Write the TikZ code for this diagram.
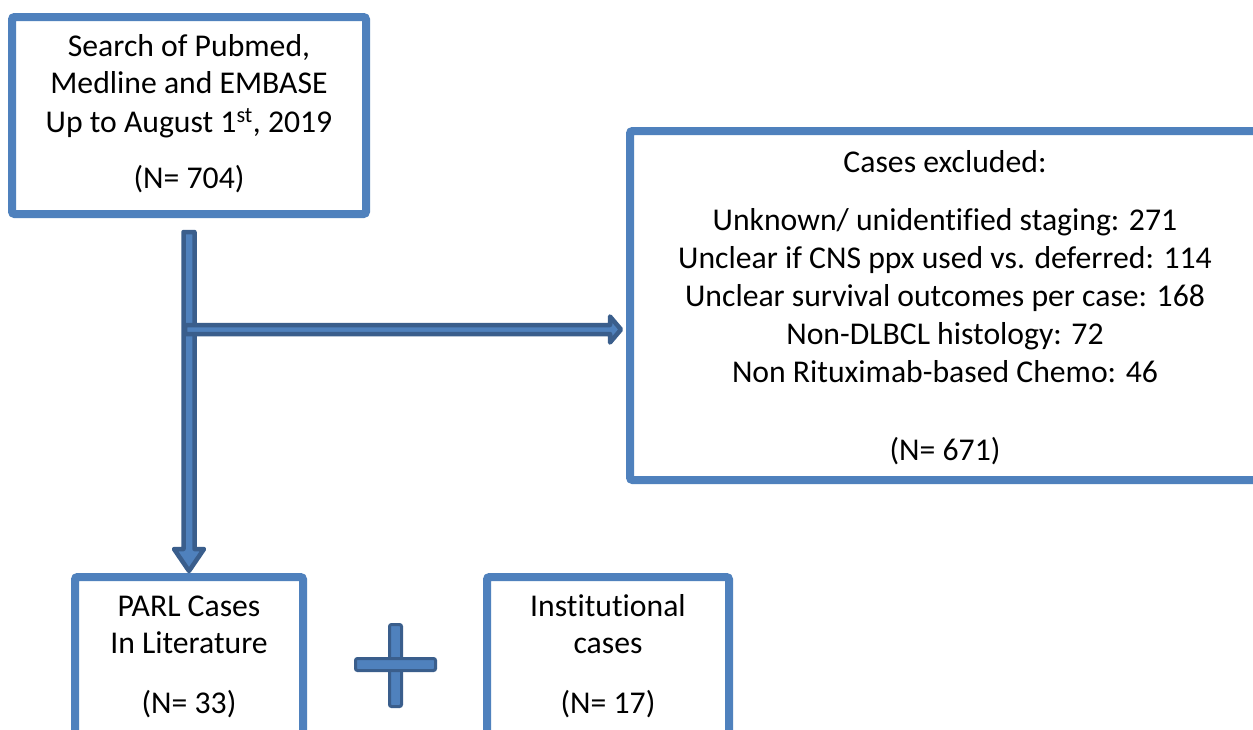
\documentclass[tikz,border=0pt]{standalone}
\usepackage{fontspec}
\setmainfont{Carlito}[Ligatures=NoCommon]
\usetikzlibrary{calc}
\definecolor{boxblue}{HTML}{4F81BD}
\definecolor{darkblue}{HTML}{3A5E8C}
\begin{document}
\begin{tikzpicture}[x=1pt,y=-1pt,
  box/.style={draw=boxblue,line width=8pt,rounded corners=2.5pt,inner sep=0pt,fill=white},
  txt/.style={anchor=base,inner sep=0pt,font=\fontsize{31.7pt}{38pt}\selectfont,text=black},
  blockarrow/.style={fill=boxblue,draw=darkblue,line width=4.5pt,line join=round},
  plusbar/.style={fill=boxblue,draw=darkblue,line width=3pt,rounded corners=2pt,inner sep=0pt}]
\useasboundingbox (0,0) rectangle (1253,729);
\clip (0,0) rectangle (1253,729);
\fill[white] (0,0) rectangle (1253,729);

% boxes
\node[box,minimum width=354pt,minimum height=197pt] (search) at (189,115.5) {};
\node[box,minimum width=630pt,minimum height=349pt] (excl) at (945,305.5) {};
\node[box,minimum width=228pt,minimum height=223pt] (parl) at (189,688.5) {};
\node[box,minimum width=242pt,minimum height=223pt] (inst) at (608,688.5) {};

% texts
\node[txt] (s1) at (189,56) {Search of Pubmed,};
\node[txt] (s2) at (189,93.5) {Medline and EMBASE};
\node[txt] (s3) at (189,132) {Up to August 1\textsuperscript{st}, 2019};
\node[txt] (s4) at (189,188) {(N= 704)};

\node[txt] (e0) at (945,172) {Cases excluded:};
\node[txt] (e1) at (945,230) {Unknown/ unidentified staging: 271};
\node[txt] (e2) at (945,268) {Unclear if CNS ppx used vs. deferred: 114};
\node[txt] (e3) at (945,306) {Unclear survival outcomes per case: 168};
\node[txt] (e4) at (945,344) {Non-DLBCL histology: 72};
\node[txt] (e5) at (945,382) {Non Rituximab-based Chemo: 46};
\node[txt] (e6) at (945,460) {(N= 671)};

\node[txt] (p1) at (189,616) {PARL Cases};
\node[txt] (p2) at (189,653) {In Literature};
\node[txt] (p3) at (189,713) {(N= 33)};

\node[txt] (i1) at (608,616) {Institutional};
\node[txt] (i2) at (608,653) {cases};
\node[txt] (i3) at (608,713) {(N= 17)};

% vertical block arrow from search box to PARL box
\path (search.south) ++(0,14) coordinate (vs);
\path (parl.north) ++(0,-2) coordinate (ve);
\draw[blockarrow] let \p1=(vs), \p2=(ve) in
  (\x1-5.5pt,\y1) -- (\x1+5.5pt,\y1) -- (\x1+5.5pt,\y2+22pt) -- (\x1+15pt,\y2+22pt)
  -- (\x1,\y2) -- (\x1-15pt,\y2+22pt) -- (\x1-5.5pt,\y2+22pt) -- cycle;

% horizontal block arrow to exclusion box
\coordinate (hs) at (185,329.5);
\path (excl.west |- hs) ++(-5,0) coordinate (he);
\draw[blockarrow] let \p1=(hs), \p2=(he) in
  (\x1,\y1+4.5pt) -- (\x2-11pt,\y1+4.5pt) -- (\x2-11pt,\y1+13pt) -- (\x2,\y1)
  -- (\x2-11pt,\y1-13pt) -- (\x2-11pt,\y1-4.5pt) -- (\x1,\y1-4.5pt) -- cycle;

% plus sign
\node[plusbar,minimum width=12pt,minimum height=82pt] (plusv) at (395.5,665.5) {};
\node[plusbar,minimum width=80pt,minimum height=12pt] (plush) at (395.5,664.5) {};
\end{tikzpicture}
\end{document}
